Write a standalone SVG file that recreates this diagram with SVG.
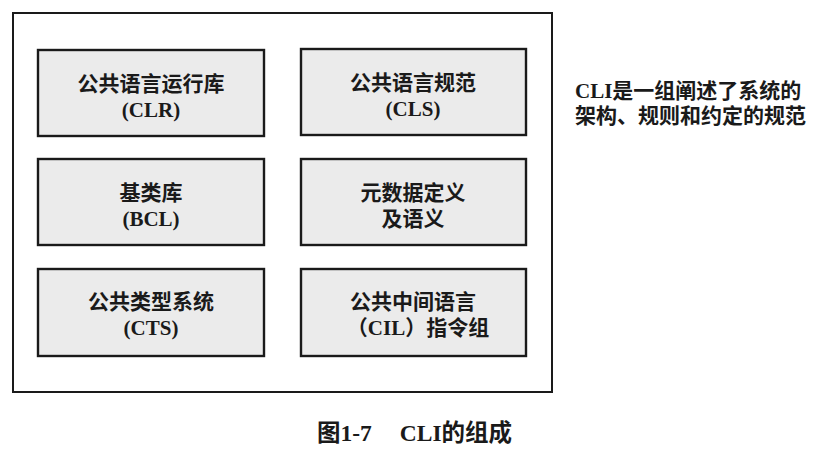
<svg xmlns="http://www.w3.org/2000/svg" width="826" height="452" viewBox="0 0 826 452">
  <style>
    .frame { fill: #ffffff; stroke: #1a1a1a; stroke-width: 2; }
    .box { fill: #ebebeb; stroke: #1a1a1a; stroke-width: 2.4; }
    .t { font-family: "Liberation Serif", "Noto Sans CJK SC", serif; font-size: 21px; font-weight: bold; fill: #1a1a1a; text-anchor: middle; }
    .note { font-family: "Liberation Serif", "Noto Sans CJK SC", serif; font-size: 21px; font-weight: bold; fill: #1a1a1a; }
    .caption { font-family: "Liberation Serif", "Noto Sans CJK SC", serif; font-size: 23.5px; font-weight: bold; fill: #1a1a1a; }
  </style>
  <rect width="826" height="452" fill="#ffffff"/>

  <!-- CLI container -->
  <rect id="cli" class="frame" x="13" y="13" width="539" height="379"/>

  <g id="clr">
    <rect class="box" x="38" y="50" width="226" height="86"/>
    <text class="t" x="151" y="91">公共语言运行库</text>
    <text class="t" x="151" y="117">(CLR)</text>
  </g>
  <g id="cls">
    <rect class="box" x="301" y="49" width="225" height="86"/>
    <text class="t" x="413" y="90">公共语言规范</text>
    <text class="t" x="413" y="116">(CLS)</text>
  </g>
  <g id="bcl">
    <rect class="box" x="38" y="159" width="226" height="86"/>
    <text class="t" x="151" y="200">基类库</text>
    <text class="t" x="151" y="226">(BCL)</text>
  </g>
  <g id="metadata">
    <rect class="box" x="301" y="159" width="225" height="86"/>
    <text class="t" x="413" y="200">元数据定义</text>
    <text class="t" x="413" y="226">及语义</text>
  </g>
  <g id="cts">
    <rect class="box" x="38" y="269" width="226" height="87"/>
    <text class="t" x="151" y="309">公共类型系统</text>
    <text class="t" x="151" y="335">(CTS)</text>
  </g>
  <g id="cil">
    <rect class="box" x="301" y="269" width="225" height="87"/>
    <text class="t" x="413" y="309">公共中间语言</text>
    <text class="t" x="418" y="335">（CIL）指令组</text>
  </g>

  <g id="connectors"/>

  <!-- side note -->
  <g id="note">
    <text class="note" x="575" y="98">CLI是一组阐述了系统的</text>
    <text class="note" x="575" y="123">架构、规则和约定的规范</text>
  </g>

  <!-- caption -->
  <text class="caption" x="317" y="441">图1-7<tspan dx="28">CLI的组成</tspan></text>
</svg>
